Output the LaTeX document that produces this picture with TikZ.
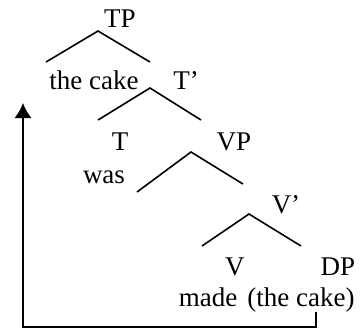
\documentclass[tikz,border=0pt]{standalone}
\usepackage{fontspec}
\setmainfont{Liberation Serif}
\usepackage{tikz}
\usetikzlibrary{arrows.meta}

\begin{document}
\begin{tikzpicture}[
    x=0.5pt, y=-0.5pt,
    lbl/.style={inner sep=0pt, anchor=base, font=\fontsize{13.5}{16}\selectfont},
    branch/.style={line width=0.8pt},
    move/.style={line width=0.8pt, -{Latex[length=7.5pt, width=8.5pt]}},
]
    \useasboundingbox (0,0) rectangle (361,329);

    % Labels
    \node[lbl] (tp) at (120,27) {TP};
    \node[lbl] (spec) at (94,89) {the cake};
    \node[lbl] (tbar) at (186,89) {T’};
    \node[lbl] (t) at (120,150) {T};
    \node[lbl] (was) at (104,183) {was};
    \node[lbl] (vp) at (234,150) {VP};
    \node[lbl] (vbar) at (286,213) {V’};
    \node[lbl] (v) at (235,275) {V};
    \node[lbl] (dp) at (338,275) {DP};
    \node[lbl] (made) at (208,306) {made};
    \node[lbl] (gap) at (301,306) {(the cake)};

    % Branch points
    \coordinate (tptop) at (98,31);
    \coordinate (tpl) at (46,62);
    \coordinate (tpr) at (150,62);
    \coordinate (tbtop) at (150,88);
    \coordinate (tbl) at (98,120);
    \coordinate (tbr) at (201,120);
    \coordinate (vptop) at (191,152);
    \coordinate (vpl) at (137,192);
    \coordinate (vpr) at (243,184);
    \coordinate (vbtop) at (249,214);
    \coordinate (vbl) at (202,246);
    \coordinate (vbr) at (301,246);

    % Branches
    \draw[branch] (tpl) -- (tptop) -- (tpr);
    \draw[branch] (tbl) -- (tbtop) -- (tbr);
    \draw[branch] (vpl) -- (vptop) -- (vpr);
    \draw[branch] (vbl) -- (vbtop) -- (vbr);

    % Movement
    \coordinate (trace) at (316,312);
    \coordinate (land) at (23,103);
    \draw[move] (trace) -- ++(0,15) -| (land);
\end{tikzpicture}
\end{document}
